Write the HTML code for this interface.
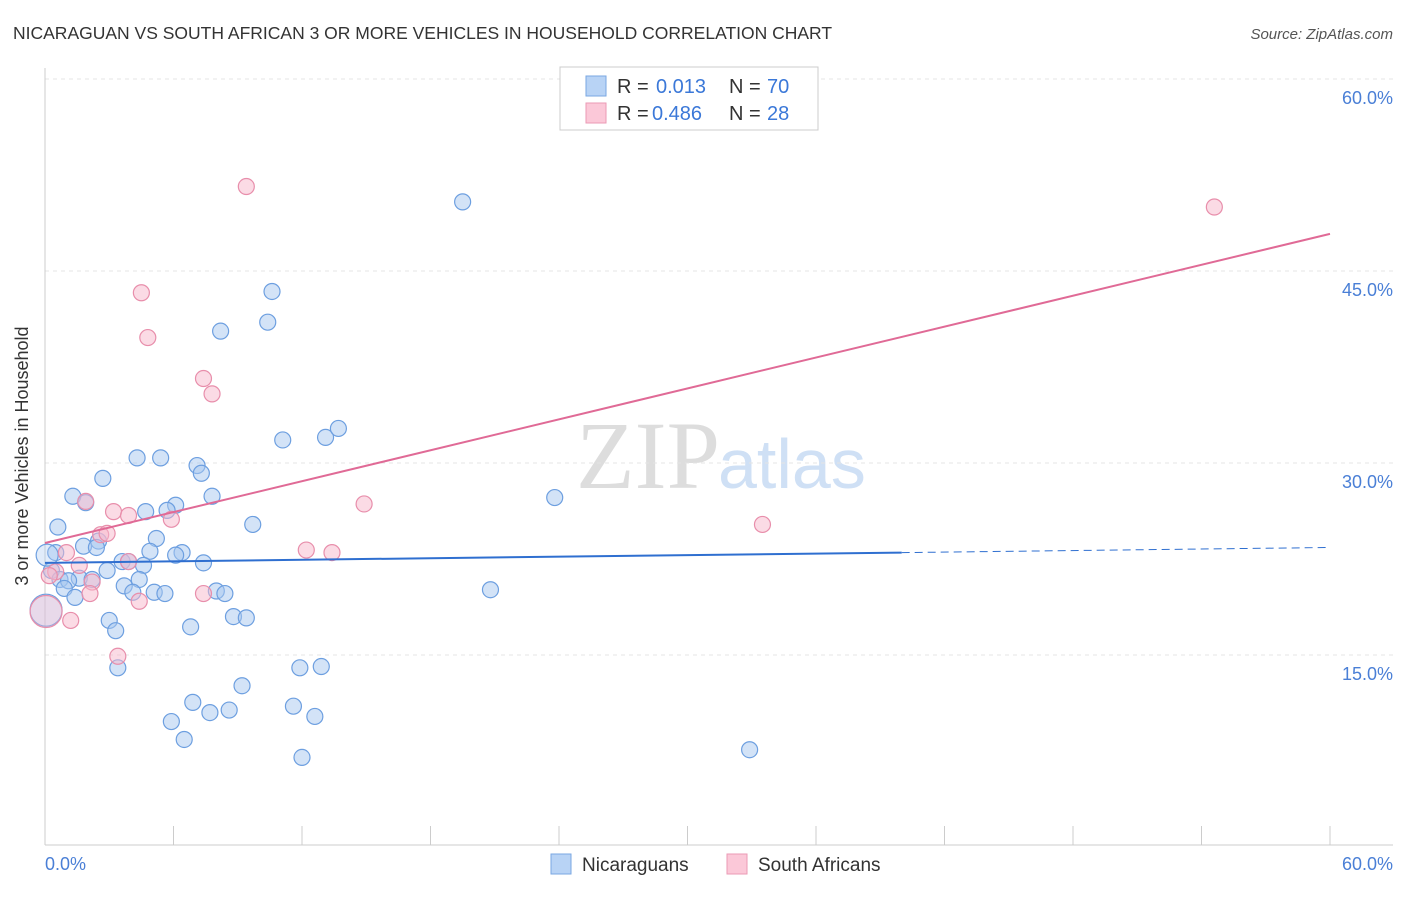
<!DOCTYPE html>
<html><head><meta charset="utf-8"><style>
body{margin:0;background:#fff;font-family:"Liberation Sans",sans-serif}
</style></head><body>
<svg width="1406" height="892" xmlns="http://www.w3.org/2000/svg" id="chart">
<text x="13" y="39" font-size="17.5" fill="#333">NICARAGUAN VS SOUTH AFRICAN 3 OR MORE VEHICLES IN HOUSEHOLD CORRELATION CHART</text>
<text x="1393" y="39" font-size="15" fill="#555" font-style="italic" text-anchor="end">Source: ZipAtlas.com</text>
<text x="720" y="488" font-size="96" fill="#ddd" text-anchor="end" font-family="Liberation Serif,serif">ZIP</text>
<text x="718" y="488" font-size="70" fill="#cfe0f5">atlas</text>
<g id="grid"></g>
<g id="axes"></g>
<g id="pts"></g>
<g id="lines"></g>
<text x="28" y="456" font-size="18" fill="#333" text-anchor="middle" transform="rotate(-90 28 456)">3 or more Vehicles in Household</text>
<text x="45" y="870" font-size="18" fill="#4a7fd6">0.0%</text>
<text x="1393" y="870" font-size="18" fill="#4a7fd6" text-anchor="end">60.0%</text>
<g>
<rect x="560" y="67" width="258" height="63" fill="#fff" stroke="#ccc"/>
<rect x="586" y="76" width="20" height="20" fill="#b8d3f5" stroke="#7aa7e2"/>
<rect x="586" y="103" width="20" height="20" fill="#fbc8d8" stroke="#eb9ab5"/>
<text x="617" y="93" font-size="20" fill="#333">R =</text>
<text x="656" y="93" font-size="20" fill="#3b78d8">0.013</text>
<text x="729" y="93" font-size="20" fill="#333">N =</text>
<text x="767" y="93" font-size="20" fill="#3b78d8">70</text>
<text x="617" y="120" font-size="20" fill="#333">R =</text>
<text x="652" y="120" font-size="20" fill="#3b78d8">0.486</text>
<text x="729" y="120" font-size="20" fill="#333">N =</text>
<text x="767" y="120" font-size="20" fill="#3b78d8">28</text>
</g>
<g>
<rect x="551" y="854" width="20" height="20" fill="#b8d3f5" stroke="#7aa7e2"/>
<text x="582" y="871" font-size="19" fill="#333">Nicaraguans</text>
<rect x="727" y="854" width="20" height="20" fill="#fbc8d8" stroke="#eb9ab5"/>
<text x="758" y="871" font-size="19" fill="#333">South Africans</text>
</g>
</svg>
<script>
const yTicks=[15,30,45,60];
const yTickLabels=["15.0%","30.0%","45.0%","60.0%"];
const xTicks=[0,6,12,18,24,30,36,42,48,54,60];
const blueX=[19.5,10.6,10.4,8.2,11.1,13.1,13.7,4.3,5.4,7.1,7.3,2.7,1.3,1.9,7.8,6.1,4.7,5.7,23.8,0.6,9.7,5.2,2.5,1.8,2.4,0.5,4.9,6.4,6.1,3.6,3.9,7.4,4.6,2.9,0.3,0.7,1.6,2.2,1.1,4.4,3.7,0.9,4.1,5.1,5.6,8.0,8.4,1.4,20.8,3.0,8.8,9.4,3.3,6.8,11.9,12.9,3.4,9.2,6.9,11.6,8.6,7.7,12.6,5.9,6.5,12.0,32.9,0.05,0.1];
const blueY=[50.4,43.4,41.0,40.3,31.8,32.0,32.7,30.4,30.4,29.8,29.2,28.8,27.4,26.9,27.4,26.7,26.2,26.3,27.3,25.0,25.2,24.1,23.9,23.5,23.4,23.0,23.1,23.0,22.8,22.3,22.3,22.2,22.0,21.6,21.6,20.9,21.0,20.9,20.8,20.9,20.4,20.2,19.9,19.9,19.8,20.0,19.8,19.5,20.1,17.7,18.0,17.9,16.9,17.2,14.0,14.1,14.0,12.6,11.3,11.0,10.7,10.5,10.2,9.8,8.4,7.0,7.6,18.5,22.8];
const pinkX=[9.4,54.6,4.5,4.8,7.4,7.8,14.9,1.9,3.2,3.9,5.9,33.5,2.6,2.9,3.9,1.0,12.2,13.4,1.6,0.5,2.2,2.1,7.4,4.4,1.2,3.4,0.05,0.2];
const pinkY=[51.6,50.0,43.3,39.8,36.6,35.4,26.8,27.0,26.2,25.9,25.6,25.2,24.4,24.5,22.3,23.0,23.2,23.0,22.0,21.5,20.7,19.8,19.8,19.2,17.7,14.9,18.4,21.2];
const blueFit=[22.2,23.4];
const pinkFit=[23.75,47.9];
const X=v=>45+v*1285/60, Y=v=>847-v*12.8;
const NS="http://www.w3.org/2000/svg";
function mk(t,a,p){const e=document.createElementNS(NS,t);for(const k in a)e.setAttribute(k,a[k]);p.appendChild(e);return e;}
const g=document.getElementById('grid'),ax=document.getElementById('axes'),pts=document.getElementById('pts'),ln=document.getElementById('lines');
yTicks.forEach((v,i)=>{
 const l=mk('line',{x1:45,x2:1393,y1:Y(v),y2:Y(v),stroke:'#e4e4e4','stroke-dasharray':'4,4'},g);
 
 
 const t=mk('text',{x:1393,y:Y(v)+25,'font-size':18,fill:'#4a7fd6','text-anchor':'end'},g);
 t.textContent=yTickLabels[i];
 
 
});
const xa=mk('line',{x1:45,x2:1393,y1:845,y2:845,stroke:'#ccc'},ax);


const ya=mk('line',{x1:45,x2:45,y1:68,y2:845,stroke:'#ccc'},ax);


xTicks.forEach(v=>{const t=mk('line',{x1:X(v),x2:X(v),y1:826,y2:845,stroke:'#ccc'},ax);
 
 });
function dots(xs,ys,fill,stroke,name){xs.forEach((x,i)=>{const big=x<0.2;const c=mk('circle',{cx:X(x),cy:Y(ys[i]),r:big?(ys[i]<19?16:11):8,fill:fill,'fill-opacity':big?0.35:0.5,stroke:stroke,'stroke-width':1.2},pts);
 
 });}
dots(blueX,blueY,'#a8c8f0','#6d9fe0','nicaraguan-point');
dots(pinkX,pinkY,'#f7b8cc','#e88eab','south-african-point');
const bx=40;const by=blueFit[0]+(blueFit[1]-blueFit[0])*bx/60;
const b1=mk('line',{x1:X(0),y1:Y(blueFit[0]),x2:X(bx),y2:Y(by),stroke:'#2f6fd0','stroke-width':2},ln);


const b2=mk('line',{x1:X(bx),y1:Y(by),x2:X(60),y2:Y(blueFit[1]),stroke:'#2f6fd0','stroke-width':1,'stroke-dasharray':'8,5'},ln);


const p1=mk('line',{x1:X(0),y1:Y(pinkFit[0]),x2:X(60),y2:Y(pinkFit[1]),stroke:'#e06a96','stroke-width':2},ln);


</script>
</body></html>
